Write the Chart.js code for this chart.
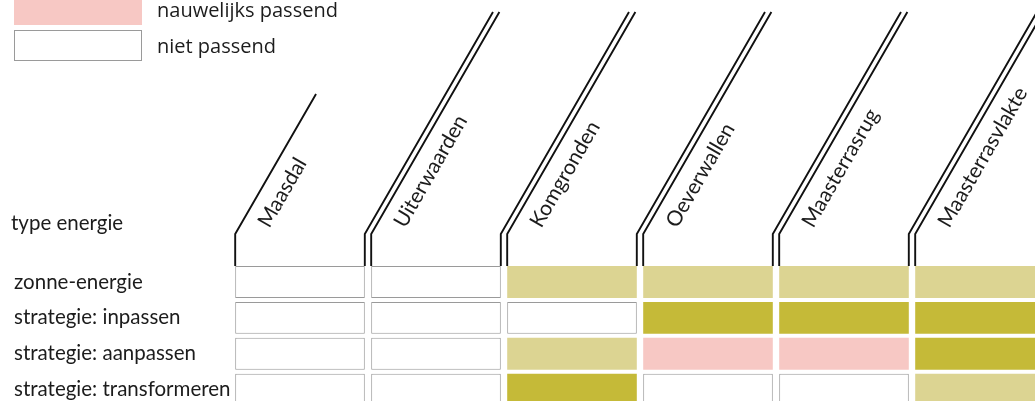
<!DOCTYPE html>
<html>
<head>
<meta charset="utf-8">
<script src="https://cdn.jsdelivr.net/npm/chart.js@4.4.1/dist/chart.umd.min.js"></script>
<style>
html,body{margin:0;padding:0;background:#fff;overflow:hidden;}
#wrap{position:absolute;left:0;top:0;width:1060px;height:420px;}
</style>
</head>
<body>
<div id="wrap"><canvas id="c" width="1060" height="420"></canvas></div>
<script>
// ---- data ----
const columns = ['Maasdal', 'Uiterwaarden', 'Komgronden', 'Oeverwallen', 'Maasterrasrug', 'Maasterrasvlakte'];
const rows = ['zonne-energie', 'strategie: inpassen', 'strategie: aanpassen', 'strategie: transformeren'];
const rowHeader = 'type energie';
// suitability level per column: 3 = goed (dark olive), 2 = redelijk (light olive), 1 = nauwelijks passend, 0 = niet passend
const zonneEnergie  = [0, 0, 2, 2, 2, 2];
const inpassen      = [0, 0, 0, 3, 3, 3];
const aanpassen     = [0, 0, 2, 1, 1, 3];
const transformeren = [0, 0, 3, 0, 0, 2];
const legendLabels = ['nauwelijks passend', 'niet passend'];
const legendLevels = [1, 0];

// ---- styles ----
const levelFill = {3: '#c5ba38', 2: '#dcd492', 1: '#f7c8c4', 0: '#ffffff'};
const cellBorder = '#9a9a9a';
const textColor = '#1c1c1c';
const labelFont = 'Lato, "Noto Sans", sans-serif';
const legendFont = '"Open Sans", "Noto Sans", sans-serif';
const GAP = 2 / 36;

const rowValues = [zonneEnergie, inpassen, aanpassen, transformeren];
const datasets = rowValues.map((vals, r) => ({
  label: rows[r],
  data: vals.map(() => [r + GAP, r + 1 - GAP]),
  backgroundColor: vals.map(v => levelFill[v]),
  borderColor: vals.map(v => v === 0 ? cellBorder : 'rgba(0,0,0,0)'),
  borderWidth: vals.map(v => v === 0 ? 1 : 0),
  borderSkipped: false,
  grouped: false,
  barPercentage: 0.953,
  categoryPercentage: 1
}));

const headerPlugin = {
  id: 'headers',
  afterDatasetsDraw(chart) {
    const ctx = chart.ctx;
    const bars = chart.getDatasetMeta(0).data;
    const cellTop = Math.min(bars[0].y, bars[0].base);
    const elbowY = cellTop - 32;
    const k = 1 / Math.tan(Math.PI / 3);
    ctx.save();
    ctx.strokeStyle = '#111';
    ctx.lineWidth = 1.9;
    ctx.lineJoin = 'miter';
    const stroke = (x, topY) => {
      ctx.beginPath();
      ctx.moveTo(x, cellTop);
      ctx.lineTo(x, elbowY);
      ctx.lineTo(x + (elbowY - topY) * k, topY);
      ctx.stroke();
    };
    bars.forEach((b, i) => {
      const left = b.x - b.width / 2;
      if (i === 0) {
        stroke(left, 94);
      } else {
        const p = bars[i - 1];
        stroke(p.x + p.width / 2, 12);
        stroke(left, 12);
      }
      ctx.save();
      ctx.translate(left + 34, elbowY - 5);
      ctx.rotate(-Math.PI / 3);
      ctx.fillStyle = textColor;
      ctx.font = '21px ' + labelFont;
      ctx.textAlign = 'left';
      ctx.textBaseline = 'alphabetic';
      ctx.fillText(columns[i], 0, 0);
      ctx.restore();
    });
    // row header
    ctx.fillStyle = textColor;
    ctx.font = '20.5px ' + labelFont;
    ctx.textAlign = 'left';
    ctx.textBaseline = 'middle';
    ctx.fillText(rowHeader, 11, 223);
    // legend
    legendLabels.forEach((lab, j) => {
      const y = -6 + j * 36;
      const lv = legendLevels[j];
      ctx.fillStyle = levelFill[lv];
      ctx.fillRect(14, y, 128, 31);
      if (lv === 0) {
        ctx.strokeStyle = cellBorder;
        ctx.lineWidth = 1;
        ctx.strokeRect(14.5, y + 0.5, 127, 30);
      }
      ctx.fillStyle = textColor;
      ctx.font = '20px ' + legendFont;
      ctx.textBaseline = 'middle';
      ctx.fillText(lab, 157, y + 17);
    });
    ctx.restore();
  }
};

new Chart(document.getElementById('c'), {
  type: 'bar',
  data: {labels: columns, datasets},
  options: {
    responsive: false,
    animation: false,
    devicePixelRatio: 1,
    layout: {padding: {left: 14, top: 264, right: 12, bottom: 12}},
    plugins: {legend: {display: false}, tooltip: {enabled: false}},
    scales: {
      x: {type: 'category', display: false},
      y: {type: 'linear', min: 0, max: 4, reverse: true, display: false},
      rowsAxis: {
        type: 'category', axis: 'y', position: 'left', labels: rows, offset: true,
        grid: {display: false}, border: {display: false},
        ticks: {crossAlign: 'far', padding: 0, autoSkip: false, color: textColor,
                font: {family: labelFont, size: 20.5}},
        afterFit(s) { s.width = 232 - 14; }
      }
    }
  },
  plugins: [headerPlugin]
});
</script>
</body>
</html>
